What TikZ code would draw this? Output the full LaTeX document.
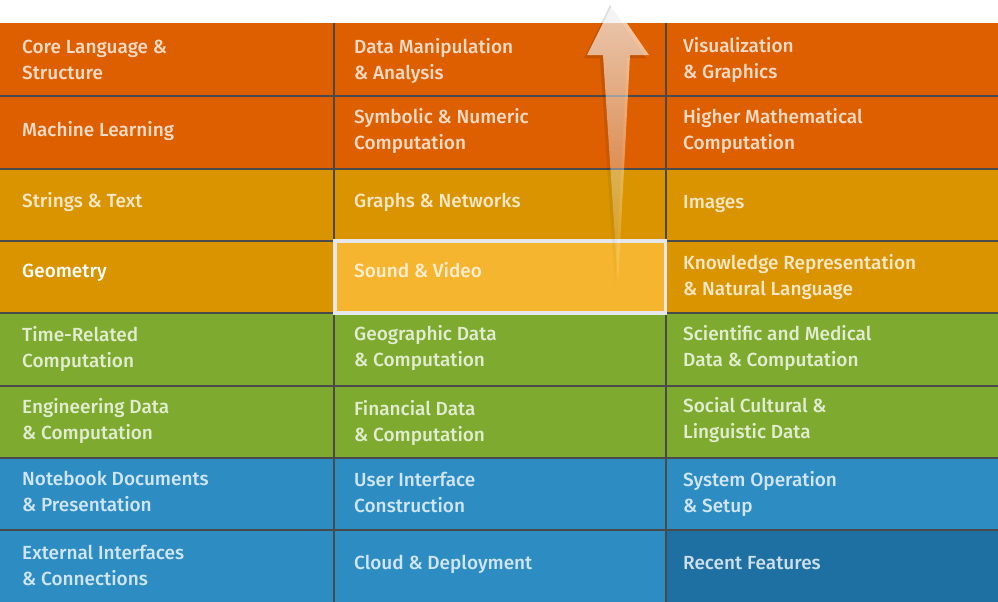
\documentclass[tikz,border=0pt]{standalone}
\usepackage{fontspec}
\setmainfont{Fira Sans}[UprightFont=* Medium]
\usetikzlibrary{fadings}
\definecolor{corange}{HTML}{DD5F00}
\definecolor{cgold}{HTML}{D99400}
\definecolor{csound}{HTML}{F6B52F}
\definecolor{cgreen}{HTML}{7EAA2F}
\definecolor{cblue}{HTML}{2D8DC3}
\definecolor{crecent}{HTML}{1D70A1}
\definecolor{cline}{HTML}{4A4A4A}
\definecolor{chigh}{HTML}{E6E7EC}
\tikzfading[name=arrowfade, top color=transparent!30, bottom color=transparent!92]
\begin{document}
\begin{tikzpicture}[x=1pt,y=-1pt,
  lbl/.style={anchor=base west, align=left, inner sep=0pt,
    font=\fontsize{19}{26}\selectfont, text=white, text opacity=0.78},
  sep/.style={draw=cline, line width=2pt}]
\useasboundingbox (0,0) rectangle (998,602);
\fill[white] (0,0) rectangle (998,602);
% row bands
\fill[corange] (0,23) rectangle (998,168.5);
\fill[cgold] (0,168.5) rectangle (998,313);
\fill[cgreen] (0,313) rectangle (998,457.5);
\fill[cblue] (0,457.5) rectangle (998,602);
\fill[crecent] (666,530) rectangle (998,602);
% separators
\foreach \y in {96,168.5,240.5,313,385.5,457.5,530}
  \draw[sep] (0,\y) -- (998,\y);
\draw[sep] (334,23) -- (334,602);
\draw[sep] (666,23) -- (666,602);
% highlighted cell
\fill[chigh] (333,239) rectangle (667,314.5);
\fill[csound] (336.5,242.5) rectangle (663.5,311);
% labels (two-line nodes are placed by their last baseline)
\node[lbl] (core) at (22,80) {Core Language \&\\Structure};
\node[lbl] (datam) at (354,79) {Data Manipulation\\\& Analysis};
\node[lbl] (vis) at (683,78) {Visualization\\\& Graphics};
\node[lbl] (ml) at (22,136) {Machine Learning};
\node[lbl] (sym) at (354,149) {Symbolic \& Numeric\\Computation};
\node[lbl] (hmc) at (683,149) {Higher Mathematical\\Computation};
\node[lbl] (str) at (22,207) {Strings \& Text};
\node[lbl] (gra) at (354,207) {Graphs \& Networks};
\node[lbl] (img) at (683,208) {Images};
\node[lbl, text opacity=1] (geo) at (22,277) {Geometry};
\node[lbl] (snd) at (354,277) {Sound \& Video};
\node[lbl] (kr) at (683,295) {Knowledge Representation\\\& Natural Language};
\node[lbl] (time) at (22,367) {Time-Related\\Computation};
\node[lbl] (geog) at (354,366) {Geographic Data\\\& Computation};
\node[lbl] (sci) at (683,366) {Scientific and Medical\\Data \& Computation};
\node[lbl] (eng) at (22,439) {Engineering Data\\\& Computation};
\node[lbl] (fin) at (354,441) {Financial Data\\\& Computation};
\node[lbl] (soc) at (683,438) {Social Cultural \&\\Linguistic Data};
\node[lbl] (nb) at (22,511) {Notebook Documents\\\& Presentation};
\node[lbl] (ui) at (354,512) {User Interface\\Construction};
\node[lbl] (sys) at (683,512) {System Operation\\\& Setup};
\node[lbl] (ext) at (22,585) {External Interfaces\\\& Connections};
\node[lbl] (cloud) at (354,569) {Cloud \& Deployment};
\node[lbl] (rec) at (683,569) {Recent Features};
% arrow shadow
\fill[black, opacity=0.2, path fading=arrowfade]
  (610,5) -- (646,58) -- (627,58) -- (615,286) -- (600,58) -- (584,58) -- cycle;
% arrow
\fill[white, path fading=arrowfade]
  (613,3) -- (649,55) -- (630,55) -- (618,284) -- (603,55) -- (587,55) -- cycle;
\end{tikzpicture}
\end{document}
